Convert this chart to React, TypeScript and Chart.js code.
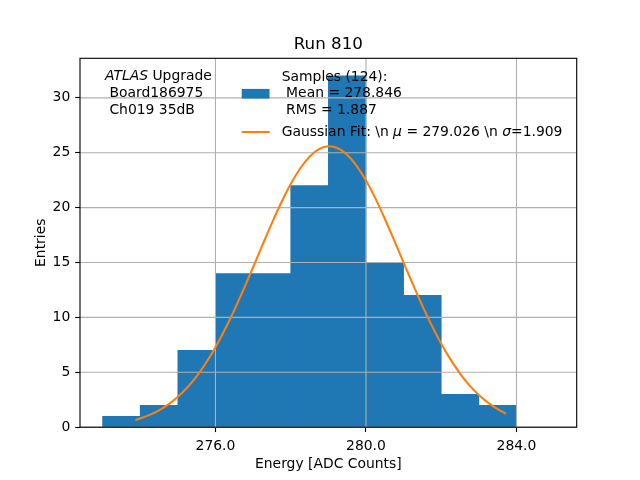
import React, { useEffect, useRef } from "react";
import { Chart, registerables } from "chart.js";

Chart.register(...registerables);

// ---- data ----
const binLeftEdges = [273, 274, 275, 276, 277, 278, 279, 280, 281, 282, 283];
const binWidth = 1;
const binCounts = [1, 2, 7, 14, 14, 22, 32, 15, 12, 3, 2];

const fitX = [
  273.9, 274.0, 274.25, 274.5, 274.75, 275.0, 275.25, 275.5, 275.75, 276.0, 276.25,
  276.5, 276.75, 277.0, 277.25, 277.5, 277.75, 278.0, 278.25, 278.5, 278.75, 279.0,
  279.25, 279.5, 279.75, 280.0, 280.25, 280.5, 280.75, 281.0, 281.25, 281.5, 281.75,
  282.0, 282.25, 282.5, 282.75, 283.0, 283.25, 283.5, 283.7,
];
const fitY = [
  0.69, 0.8, 1.12, 1.54, 2.08, 2.77, 3.62, 4.64, 5.87, 7.28, 8.89,
  10.66, 12.57, 14.57, 16.6, 18.59, 20.46, 22.15, 23.56, 24.64, 25.32, 25.59,
  25.41, 24.81, 23.81, 22.47, 20.84, 18.99, 17.02, 14.99, 12.98, 11.05, 9.25,
  7.61, 6.15, 4.89, 3.81, 2.93, 2.21, 1.64, 1.27,
];

const xTicks = [276, 280, 284];
const yTicks = [0, 5, 10, 15, 20, 25, 30];
const xRange = [272.4, 285.6];
const yRange = [0, 33.6];

const titleText = "Run 810";
const xLabel = "Energy [ADC Counts]";
const yLabel = "Entries";
const annotationLines = ["$ATLAS$ Upgrade", " Board186975", " Ch019 35dB"];
const histLabelLines = ["Samples (124):", " Mean = 278.846", " RMS = 1.887"];
const fitLabel = "Gaussian Fit: \\n $\\mu$ = 279.026 \\n $\\sigma$=1.909";

const BLUE = "#1f77b4";
const ORANGE = "#ff7f0e";
const FONT = "'DejaVu Sans', 'Liberation Sans', sans-serif";
const FS = 13.9;

function drawRich(ctx: CanvasRenderingContext2D, text: string, x: number, y: number, size: number) {
  const greek: Record<string, string> = { "\\mu": "\u03bc", "\\sigma": "\u03c3" };
  const parts = text.split("$");
  let cx = x;
  ctx.textAlign = "left";
  ctx.textBaseline = "alphabetic";
  parts.forEach((p, i) => {
    let s = p;
    if (i % 2 === 1) {
      Object.keys(greek).forEach((k) => {
        s = s.split(k).join(greek[k]);
      });
      ctx.font = `italic ${size}px ${FONT}`;
    } else {
      ctx.font = `${size}px ${FONT}`;
    }
    ctx.fillText(s, cx, y);
    cx += ctx.measureText(s).width;
  });
}

const overlayPlugin = {
  id: "overlay",
  afterDatasetDraw(chart: any, args: any) {
    if (args.meta.type !== "bar") return;
    const { ctx, chartArea: a } = chart;
    const xs = chart.scales.x;
    const ys = chart.scales.y;
    ctx.save();
    ctx.strokeStyle = "#b0b0b0";
    ctx.lineWidth = 1.11;
    xs.ticks.forEach((t: any) => {
      const px = xs.getPixelForValue(t.value);
      ctx.beginPath();
      ctx.moveTo(px, a.top);
      ctx.lineTo(px, a.bottom);
      ctx.stroke();
    });
    ys.ticks.forEach((t: any) => {
      const py = ys.getPixelForValue(t.value);
      ctx.beginPath();
      ctx.moveTo(a.left, py);
      ctx.lineTo(a.right, py);
      ctx.stroke();
    });
    ctx.restore();
  },
  afterDraw(chart: any) {
    const { ctx, chartArea: a } = chart;
    ctx.save();
    // frame
    ctx.strokeStyle = "#000";
    ctx.lineWidth = 1.11;
    ctx.strokeRect(a.left, a.top, a.right - a.left, a.bottom - a.top);

    const cx = (a.left + a.right) / 2;
    ctx.fillStyle = "#000";
    // title
    ctx.font = `16.7px ${FONT}`;
    ctx.textAlign = "center";
    ctx.textBaseline = "alphabetic";
    ctx.fillText(titleText, cx, 49);
    // x label
    ctx.font = `${FS}px ${FONT}`;
    ctx.fillText(xLabel, cx, 467.5);
    // y label
    ctx.save();
    ctx.translate(45, (a.top + a.bottom) / 2);
    ctx.rotate(-Math.PI / 2);
    ctx.fillText(yLabel, 0, 0);
    ctx.restore();

    // annotation
    const annBase = [79.6, 97.0, 113.7];
    annotationLines.forEach((l, i) => drawRich(ctx, l, 105, annBase[i], FS));

    // legend
    const ds = chart.data.datasets;
    ctx.fillStyle = ds[1].backgroundColor;
    ctx.fillRect(241.7, 88.9, 27.8, 9.7);
    ctx.strokeStyle = ds[0].borderColor;
    ctx.lineWidth = 2.08;
    ctx.lineCap = "square";
    ctx.beginPath();
    ctx.moveTo(242.7, 132);
    ctx.lineTo(268.7, 132);
    ctx.stroke();
    ctx.fillStyle = "#000";
    const legBase = [80.7, 97.3, 114.0];
    histLabelLines.forEach((l, i) => drawRich(ctx, l, 281.7, legBase[i], FS));
    drawRich(ctx, fitLabel, 281.7, 136.3, FS);
    ctx.restore();
  },
};

export default function App() {
  const ref = useRef<HTMLCanvasElement | null>(null);
  useEffect(() => {
    document.body.style.margin = "0";
    if (!ref.current) return;
    const chart = new Chart(ref.current, {
      type: "bar",
      data: {
        datasets: [
          {
            type: "line",
            label: fitLabel,
            data: fitX.map((x, i) => ({ x, y: fitY[i] })),
            borderColor: ORANGE,
            backgroundColor: ORANGE,
            borderWidth: 2.08,
            borderCapStyle: "square",
            pointRadius: 0,
            cubicInterpolationMode: "monotone",
            order: 1,
          } as any,
          {
            type: "bar",
            label: histLabelLines.join("\n"),
            data: binLeftEdges.map((e, i) => ({ x: e + binWidth / 2, y: binCounts[i] })),
            backgroundColor: BLUE,
            borderWidth: 0,
            barPercentage: 1,
            categoryPercentage: 1,
            order: 2,
          } as any,
        ],
      },
      options: {
        animation: false,
        responsive: false,
        devicePixelRatio: 1,
        layout: { padding: { left: 0, right: 63.3, top: 58.3, bottom: 0 } },
        plugins: { legend: { display: false }, title: { display: false }, tooltip: { enabled: false } },
        scales: {
          x: {
            type: "linear",
            min: xRange[0],
            max: xRange[1],
            offset: false,
            border: { display: false },
            grid: { offset: false, drawOnChartArea: false, tickLength: 4.86, tickColor: "#000", tickWidth: 1.11 },
            ticks: {
              color: "#000",
              font: { family: FONT, size: FS },
              padding: 5.5,
              maxRotation: 0,
              autoSkip: false,
              callback: (v: any) => Number(v).toFixed(1),
            },
            afterBuildTicks: (s: any) => {
              s.ticks = xTicks.map((v) => ({ value: v }));
            },
            afterFit: (s: any) => {
              s.height = 52.8;
            },
          },
          y: {
            type: "linear",
            min: yRange[0],
            max: yRange[1],
            border: { display: false },
            grid: { offset: false, drawOnChartArea: false, tickLength: 4.86, tickColor: "#000", tickWidth: 1.11 },
            ticks: {
              color: "#000",
              font: { family: FONT, size: FS },
              padding: 4.86,
              autoSkip: false,
            },
            afterBuildTicks: (s: any) => {
              s.ticks = yTicks.map((v) => ({ value: v }));
            },
            afterFit: (s: any) => {
              s.width = 80;
            },
          },
        },
      } as any,
      plugins: [overlayPlugin],
    });
    return () => chart.destroy();
  }, []);
  return <canvas ref={ref} width={640} height={480} style={{ display: "block" }} />;
}
